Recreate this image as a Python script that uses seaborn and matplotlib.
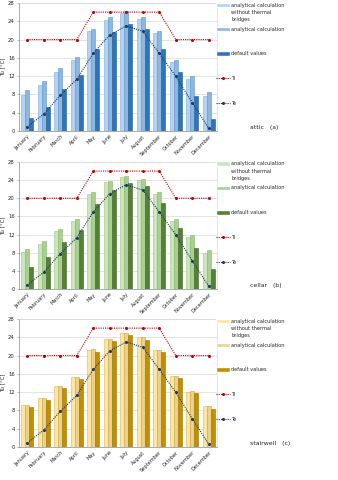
import numpy as np
import pandas as pd
import matplotlib
matplotlib.use("Agg")
import matplotlib.pyplot as plt
import seaborn as sns

months = ["January", "February", "March", "April", "May", "June", "July",
          "August", "September", "October", "November", "December"]
series_names = ["analytical calculation\nwithout thermal\nbridges",
                "analytical calculation", "default values"]

Ti = [20, 20, 20, 20, 26, 26, 26, 26, 26, 20, 20, 20]
Te = [0.9, 3.7, 7.8, 11.3, 17.0, 21.0, 23.0, 21.8, 17.0, 11.95, 6.2, 0.6]

attic_no_tb = [7.9, 10.0, 13.0, 15.5, 21.8, 24.3, 25.8, 24.5, 21.4, 15.1, 11.3, 7.6]
attic_calc = [8.9, 10.85, 13.7, 16.1, 22.4, 24.9, 26.2, 24.9, 21.9, 15.6, 11.95, 8.6]
attic_def = [2.9, 5.2, 9.1, 12.2, 17.9, 21.6, 23.4, 22.4, 18.0, 12.8, 7.55, 2.6]

cellar_no_tb = [8.1, 9.9, 12.7, 15.1, 21.0, 23.5, 24.8, 24.0, 20.9, 15.0, 11.4, 7.9]
cellar_calc = [8.85, 10.5, 13.2, 15.5, 21.3, 23.8, 25.0, 24.2, 21.3, 15.4, 12.0, 8.6]
cellar_def = [4.8, 7.0, 10.4, 13.1, 18.8, 21.9, 23.4, 22.7, 18.9, 13.5, 9.0, 4.5]

stair_no_tb = [9.1, 10.7, 13.3, 15.3, 21.3, 23.6, 24.9, 24.0, 21.2, 15.5, 12.1, 8.9]
stair_calc = [9.2, 10.8, 13.4, 15.4, 21.4, 23.7, 25.0, 24.1, 21.3, 15.6, 12.2, 9.0]
stair_def = [8.65, 10.3, 12.9, 14.9, 20.7, 23.1, 24.4, 23.5, 20.7, 15.2, 11.8, 8.4]

panels = [
    ("attic   (a)", [attic_no_tb, attic_calc, attic_def],
     ["#B4D3F0", "#8DB6E0", "#2E75B6"], ["#7FAEDB", "#5F93CC", "#1F5E99"]),
    ("cellar   (b)", [cellar_no_tb, cellar_calc, cellar_def],
     ["#CDE5BD", "#AACF92", "#548235"], ["#9DC77F", "#86B56A", "#3E6427"]),
    ("stairwell   (c)", [stair_no_tb, stair_calc, stair_def],
     ["#FCE6A0", "#EED08A", "#C09000"], ["#D9B95A", "#C8A54A", "#9A7300"]),
]

sns.set_theme(style="white")
plt.rcParams["font.family"] = ["DejaVu Sans"]

fig = plt.figure(figsize=(3.38, 4.8), dpi=100)
left, width = 19 / 338, (217 - 19) / 338
tops = [3, 162, 319]
bottoms = [131, 289, 447]

leg_kw = dict(frameon=False, fontsize=3.6, handlelength=2.7, handleheight=0.9,
              handletextpad=0.3, borderaxespad=0.0, borderpad=0.0)

for (label, vals, colors, edges), top, bot in zip(panels, tops, bottoms):
    h = bot - top
    ax = fig.add_axes([left, 1 - bot / 480, width, h / 480])
    df = pd.DataFrame({
        "month": months * 3,
        "series": sum([[s] * 12 for s in series_names], []),
        "value": vals[0] + vals[1] + vals[2],
    })
    sns.barplot(data=df, x="month", y="value", hue="series", order=months,
                hue_order=series_names, palette=colors, width=0.72,
                saturation=1, ax=ax, legend=True, zorder=2)
    for cont, ec in zip(ax.containers, edges):
        for p in cont:
            p.set_edgecolor(ec)
            p.set_linewidth(0.4)
    x = np.arange(len(months))
    sns.lineplot(x=x, y=Ti, ax=ax, color="#C00000", linestyle=(0, (1, 1)),
                 linewidth=0.8, marker="o", markersize=2.2, markeredgewidth=0,
                 label="Ti", zorder=4)
    sns.lineplot(x=x, y=Te, ax=ax, color="#1F3864", linestyle=(0, (1, 1)),
                 linewidth=0.8, marker="o", markersize=2.2, markeredgewidth=0,
                 label="Te", zorder=4)
    ax.set_ylim(0, 28)
    ax.set_yticks(range(0, 29, 4))
    ax.set_xlim(-0.5, 11.5)
    ax.set_xticks(x)
    ax.set_xticklabels(months, rotation=45, ha="right", rotation_mode="anchor",
                       fontsize=3.6)
    ax.tick_params(axis="y", labelsize=3.8, length=1.5, width=0.4, pad=1.5,
                   color="#888888", left=True)
    ax.tick_params(axis="x", length=0, pad=2)
    ax.set_xlabel("")
    ax.set_ylabel("Tu [°C]", fontsize=4, labelpad=2)
    ax.yaxis.grid(True, color="#D9D9D9", linewidth=0.5)
    ax.set_axisbelow(True)
    for s in ax.spines.values():
        s.set_color("#D9D9D9")
        s.set_linewidth(0.5)
    ax.spines["left"].set_color("#888888")
    ax.spines["bottom"].set_color("#888888")

    handles, labels = ax.get_legend_handles_labels()
    leg1 = ax.legend(handles[:1], labels[:1], loc="upper left",
                     bbox_to_anchor=(0.995, 1.0 + 0.5 / h), **leg_kw)
    for t in leg1.get_texts():
        t.set_linespacing(1.55)
    for col in leg1._legend_handle_box.get_children():
        for row in col.get_children():
            row.align = "top"
    ax.add_artist(leg1)
    ax.legend(handles[1:], labels[1:], loc="upper left",
              bbox_to_anchor=(0.995, 1.0 - 23.5 / h), labelspacing=3.95,
              **leg_kw)
    fig.text(250 / 338, 1 - (bot - 4) / 480, label, fontsize=4.4,
             ha="left", va="center")

fig.savefig("out.png", dpi=100)
